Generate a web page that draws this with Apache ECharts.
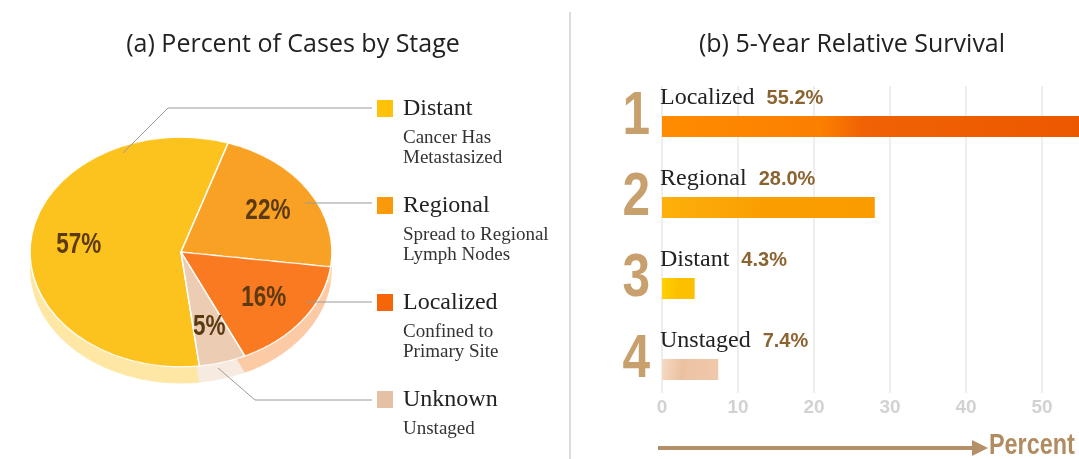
<!DOCTYPE html>
<html>
<head>
<meta charset="utf-8">
<script src="https://cdn.jsdelivr.net/npm/echarts/dist/echarts.min.js"></script>
<style>
  html, body { margin: 0; padding: 0; background: #fff; }
  #wrap { position: relative; width: 1079px; height: 459px; overflow: hidden; }
  /* pie drawn as a circle, then flattened into an ellipse */
  #pie { position: absolute; left: 21px; top: 92px; width: 320px; height: 360px;
         transform: scaleY(0.76); transform-origin: 160px 160px; }
  #main { position: absolute; left: 0; top: 0; width: 1079px; height: 459px; }
</style>
</head>
<body>
<div id="wrap"><div id="pie"></div><div id="main"></div></div>
<script>
// (a) percent of cases by stage
var stages = ["Distant", "Regional", "Localized", "Unknown"];
var stageNotes = [["Cancer Has", "Metastasized"], ["Spread to Regional", "Lymph Nodes"],
                  ["Confined to", "Primary Site"], ["Unstaged"]];
var casePercent = [57, 22, 16, 5];
var pieColors = ["#FCC21E", "#F9A125", "#F97A20", "#ECCDB4"];
var keyColors = ["#FFC10A", "#FA9A0A", "#F66508", "#E5C0A5"];

// (b) 5-year relative survival
var survivalStages = ["Localized", "Regional", "Distant", "Unstaged"];
var survivalPercent = [55.2, 28.0, 4.3, 7.4];
var percentTicks = [0, 10, 20, 30, 40, 50, 60];
var barStops = [
  ["#FF8C00", "#FB7F00", "#F06205", "#EC5800"],
  ["#FDB00A", "#FBA204", "#FA9E00", "#FA9C00"],
  ["#FFD200", "#FDC600", "#FCC000", "#FCC000"],
  ["#F5DAC4", "#EBC09F", "#EDC4A4", "#F0C9AA"]
];

var HEAVY = "'Liberation Sans', Arial, sans-serif";
var SERIF = "'Liberation Serif', 'Times New Roman', serif";

// ---------- pie ----------
var pieStart = 277;
var pieChart = echarts.init(document.getElementById("pie"));
function pieData(alpha) {
  return casePercent.map(function (v, i) {
    return { name: stages[i], value: v, itemStyle: { color: pieColors[i], opacity: alpha } };
  });
}
pieChart.setOption({
  animation: false,
  series: [
    { // side of the disc
      type: "pie", radius: 151, center: [160, 182], startAngle: pieStart, silent: true,
      label: { show: false }, labelLine: { show: false }, data: pieData(0.4), z: 1
    },
    {
      type: "pie", radius: 151, center: [160, 160], startAngle: pieStart, silent: true,
      itemStyle: { borderColor: "#fff", borderWidth: 1.5 },
      label: { show: false }, labelLine: { show: false }, data: pieData(1), z: 2
    }
  ]
});

// ---------- main ----------
var myChart = echarts.init(document.getElementById("main"));
var g = [];

g.push({ type: "text", style: { text: "(a) Percent of Cases by Stage", x: 293, y: 45,
  font: "25px 'Open Sans'", fill: "#222", align: "center", verticalAlign: "middle",
  textAlign: "center", textVerticalAlign: "middle" } });
g.push({ type: "text", style: { text: "(b) 5-Year Relative Survival", x: 852, y: 45,
  font: "25px 'Open Sans'", fill: "#222", align: "center", verticalAlign: "middle",
  textAlign: "center", textVerticalAlign: "middle" } });
g.push({ type: "line", shape: { x1: 570, y1: 12, x2: 570, y2: 459 },
  style: { stroke: "#d0d0d0", lineWidth: 1.5 } });

// percent labels on the slices, placed on the flattened ellipse
var cx = 181, cy = 252, rx = 151, ry = 115;
var total = casePercent.reduce(function (a, b) { return a + b; }, 0);
var a0 = 90 - pieStart;
casePercent.forEach(function (v, i) {
  var span = v / total * 360;
  var mid = (a0 + span / 2) * Math.PI / 180;
  a0 += span;
  g.push({ type: "text", z: 10, scaleX: 0.75,
    x: cx + 0.68 * rx * Math.sin(mid), y: cy - 0.68 * ry * Math.cos(mid),
    style: { text: v + "%", x: 0, y: 0, font: "bold 30px " + HEAVY, fill: "#5B3A12",
      align: "center", verticalAlign: "middle", textAlign: "center", textVerticalAlign: "middle" } });
});

// leader lines
var leaders = [
  [[123, 153], [168, 108], [372, 108]],
  [[305, 203], [372, 203]],
  [[307, 302], [372, 302]],
  [[218, 368], [255, 400], [372, 400]]
];
leaders.forEach(function (pts) {
  g.push({ type: "polyline", shape: { points: pts }, style: { stroke: "#9a9a9a", lineWidth: 1, fill: null } });
});

// key
stages.forEach(function (s, i) {
  var y0 = 100 + i * 97;
  g.push({ type: "rect", shape: { x: 377, y: y0, width: 16, height: 17 }, style: { fill: keyColors[i] } });
  g.push({ type: "text", style: { text: s, x: 403, y: y0 + 9, font: "24px " + SERIF, fill: "#222",
    verticalAlign: "middle", textVerticalAlign: "middle" } });
  g.push({ type: "text", style: { text: stageNotes[i].join("\n"), x: 403, y: y0 + 28,
    font: "19px " + SERIF, lineHeight: 20, fill: "#333", verticalAlign: "top", textVerticalAlign: "top" } });
});

// arrow under the axis
g.push({ type: "line", shape: { x1: 658, y1: 448, x2: 975, y2: 448 },
  style: { stroke: "#B39068", lineWidth: 4 } });
g.push({ type: "polygon", shape: { points: [[972, 440], [988, 448], [972, 456]] }, style: { fill: "#B39068" } });
g.push({ type: "text", x: 989, y: 446, scaleX: 0.78,
  style: { text: "Percent", x: 0, y: 0, font: "bold 30px " + HEAVY,
    fill: "#B08C60", verticalAlign: "middle", textVerticalAlign: "middle" } });

var tickMin = percentTicks[0], tickMax = percentTicks[percentTicks.length - 1];
var tickStep = percentTicks[1] - percentTicks[0];

var option = {
  animation: false,
  grid: [
    { left: 662, right: -39, top: 86, bottom: 49, outerBoundsMode: "none", containLabel: false },
    { left: 662, right: -39, top: 86, bottom: 66, outerBoundsMode: "none", containLabel: false }
  ],
  xAxis: [
    { gridIndex: 0, type: "value", min: tickMin, max: tickMax, interval: tickStep, show: false },
    {
      gridIndex: 1, type: "value", min: tickMin, max: tickMax, interval: tickStep,
      axisLine: { show: false }, axisTick: { show: false },
      splitLine: { show: true, lineStyle: { color: "#e8e8e8", width: 1.5 } },
      axisLabel: { color: "#d2d2d2", fontFamily: HEAVY, fontWeight: "bold", fontSize: 19, margin: 5 }
    }
  ],
  yAxis: [
    {
      gridIndex: 0, type: "category", inverse: true, data: survivalStages,
      axisLine: { show: false }, axisTick: { show: false }, splitLine: { show: false },
      axisLabel: { show: false }
    },
    { gridIndex: 1, type: "category", data: survivalStages, show: false }
  ],
  series: [
    {
      type: "bar", xAxisIndex: 0, yAxisIndex: 0, barWidth: 21, silent: true,
      data: survivalPercent.map(function (v, i) {
        var st = barStops[i];
        return {
          value: v,
          itemStyle: { color: new echarts.graphic.LinearGradient(0, 0, 1, 0.2, [
            { offset: 0, color: st[0] }, { offset: 0.38, color: st[1] },
            { offset: 0.48, color: st[2] }, { offset: 1, color: st[3] }]) }
        };
      }),
      label: {
        show: true, position: [-2, -5], align: "left", verticalAlign: "bottom",
        formatter: function (p) {
          return "{n|" + p.name + "  }{v|" + p.value.toFixed(1) + "%}";
        },
        rich: {
          n: { fontFamily: SERIF, fontSize: 24, color: "#222", lineHeight: 26 },
          v: { fontFamily: HEAVY, fontWeight: "bold", fontSize: 20, color: "#8B6431", lineHeight: 26 }
        }
      }
    }
  ]
};

myChart.setOption(option);

// rank numbers beside the bars, placed from the category axis
var x0 = myChart.convertToPixel({ xAxisIndex: 0 }, 0);
survivalStages.forEach(function (s, i) {
  var y = myChart.convertToPixel({ yAxisIndex: 0 }, s);
  g.push({ type: "text", x: x0 - 12, y: y - 10, scaleX: 0.8,
    style: { text: String(i + 1), x: 0, y: 0, font: "bold 62px " + HEAVY, fill: "#C7A06E",
      align: "right", verticalAlign: "middle", textAlign: "right", textVerticalAlign: "middle" } });
});
myChart.setOption({ graphic: g });
</script>
</body>
</html>
